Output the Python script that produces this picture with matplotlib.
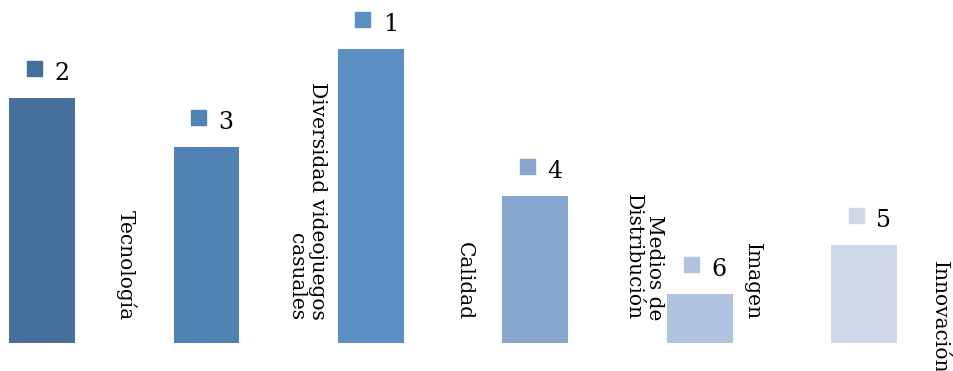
import matplotlib
matplotlib.use("Agg")
import matplotlib.pyplot as plt
from matplotlib.transforms import offset_copy

# Datos del grafico
categorias = ["Tecnología", "Diversidad videojuegos\ncasuales", "Calidad",
              "Medios de\nDistribución", "Imagen", "Innovación"]
puesto = ["2", "3", "1", "4", "6", "5"]          # etiqueta sobre cada barra
altura = [5, 4, 6, 3, 1, 2]                      # altura relativa de la barra
colores = ["#46709B", "#5082B4", "#5B8EC3", "#87A6CE", "#B0C4DF", "#CED8E8"]

# posicion de los textos de categoria (en unidades del eje x) y su extremo inferior
pos_etiq_x = [0.51, 1.61, 2.57, 3.66, 4.32, 5.46]
pos_etiq_y = [0.47, 0.47, 0.47, 0.47, 0.47, -0.62]

DPI = 100
fig = plt.figure(figsize=(9.54, 3.71), dpi=DPI)
ax = fig.add_axes([0, 28 / 371, 1, 343 / 371])
ax.set_xlim(-0.2555, 5.547)
ax.set_ylim(0, 7)
ax.axis("off")

x = list(range(len(altura)))
ax.bar(x, altura, width=0.40, color=colores)

# cuadrito de color + numero encima de cada barra
for i, h in enumerate(altura):
    tr = offset_copy(ax.transData, fig=fig, x=-8.5, y=30.5, units="dots")
    ax.plot([i], [h], marker="s", markersize=10.8, color=colores[i],
            transform=tr, clip_on=False, linestyle="none")
    ax.annotate(puesto[i], (i, h), xytext=(8.6, 13.3), textcoords="offset points",
                ha="left", va="baseline", fontsize=17, family="DejaVu Serif",
                color="black", annotation_clip=False)

# nombres de categoria girados
for i, nombre in enumerate(categorias):
    ax.text(pos_etiq_x[i], pos_etiq_y[i], nombre, rotation=270,
            ha="center", va="bottom", multialignment="right",
            fontsize=14.5, family="DejaVu Serif", color="black",
            linespacing=1.15, clip_on=False)

fig.savefig("out.png", dpi=DPI, facecolor="white")
